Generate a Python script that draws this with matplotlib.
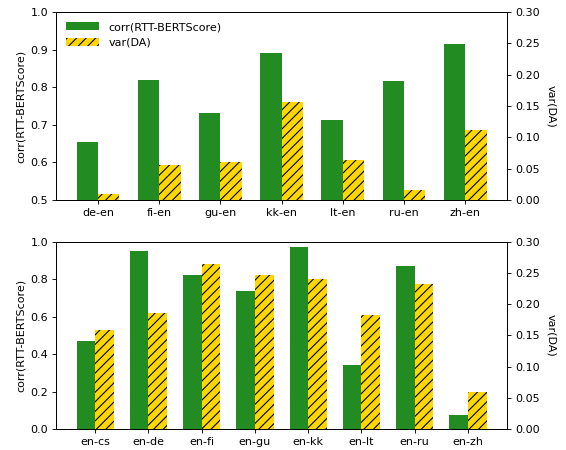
import numpy as np
import matplotlib
matplotlib.use('Agg')
import matplotlib.pyplot as plt

# datos
pares_top = ['de-en', 'fi-en', 'gu-en', 'kk-en', 'lt-en', 'ru-en', 'zh-en']
corr_top = [0.655, 0.820, 0.731, 0.890, 0.713, 0.817, 0.916]
var_top = [0.010, 0.056, 0.061, 0.156, 0.063, 0.015, 0.111]

pares_bot = ['en-cs', 'en-de', 'en-fi', 'en-gu', 'en-kk', 'en-lt', 'en-ru', 'en-zh']
corr_bot = [0.472, 0.952, 0.822, 0.737, 0.970, 0.344, 0.872, 0.075]
var_bot = [0.158, 0.186, 0.265, 0.247, 0.241, 0.183, 0.233, 0.059]

# el dpi fija la separacion del rayado; letras y lineas se escalan con k
DPI = 86
k = 80 / DPI
plt.rcParams['hatch.color'] = 'black'
plt.rcParams['hatch.linewidth'] = 1.0 * k
plt.rcParams['font.size'] = 10 * k
plt.rcParams['axes.linewidth'] = 0.8 * k
plt.rcParams['axes.labelpad'] = 4 * k
for eje in ['xtick', 'ytick']:
    plt.rcParams[eje + '.major.size'] = 3.5 * k
    plt.rcParams[eje + '.major.width'] = 0.8 * k
    plt.rcParams[eje + '.major.pad'] = 3.5 * k

fig = plt.figure(figsize=(566 / DPI, 450 / DPI), dpi=DPI)
ax1 = fig.add_axes([0.099, 0.556, 0.797, 0.417])
ax3 = fig.add_axes([0.099, 0.046, 0.797, 0.417])

w = 0.35


def panel(ax, pares, corr, var, ylim, leyenda=False):
    x = np.arange(len(pares))
    b1 = ax.bar(x - w / 2, corr, w, color='forestgreen', label='corr(RTT-BERTScore)')
    ax.set_ylim(*ylim)
    ax.set_ylabel('corr(RTT-BERTScore)')
    ax.set_xticks(x)
    ax.set_xticklabels(pares)
    ax2 = ax.twinx()
    b2 = ax2.bar(x + w / 2, var, w, color='gold', hatch='///', label='var(DA)')
    ax2.set_ylim(0, 0.3)
    ax2.set_ylabel('var(DA)', rotation=270, labelpad=15 * k)
    if leyenda:
        ax.legend([b1, b2], ['corr(RTT-BERTScore)', 'var(DA)'], loc='upper left',
                  frameon=False, handlelength=3)
    return ax2


panel(ax1, pares_top, corr_top, var_top, (0.5, 1.0), leyenda=True)
panel(ax3, pares_bot, corr_bot, var_bot, (0.0, 1.0))

plt.savefig('out.png', dpi=DPI)
